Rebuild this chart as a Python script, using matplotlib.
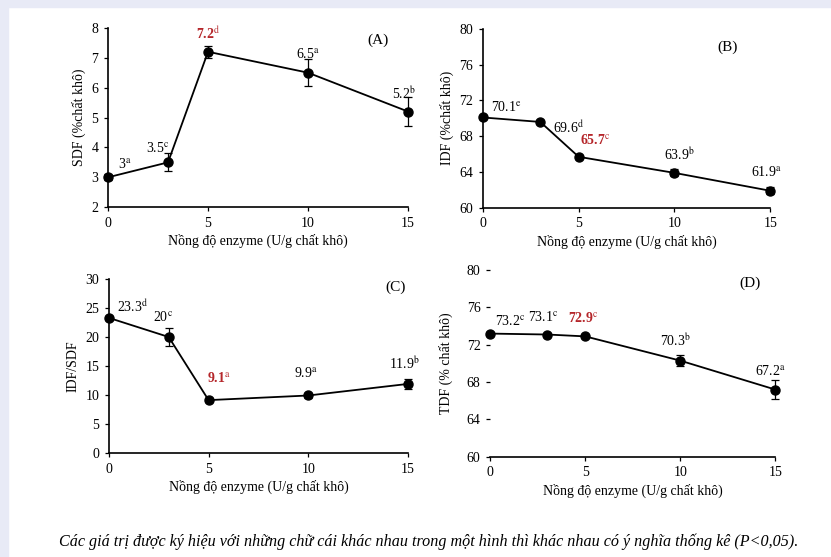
import numpy as np
import matplotlib
matplotlib.use('Agg')
import matplotlib.pyplot as plt
from matplotlib.patches import Rectangle

plt.rcParams['font.family'] = ['Liberation Serif', 'DejaVu Serif']
plt.rcParams['mathtext.fontset'] = 'stix'

# nong do enzyme (U/g chat kho)
dose = [0, 3, 5, 10, 15]

sdf = [3.0, 3.5, 7.2, 6.5, 5.2]
sdf_err = [0.1, 0.3, 0.2, 0.45, 0.5]
sdf_sup = ['a', 'c', 'd', 'a', 'b']

idf = [70.1, 69.6, 65.7, 63.9, 61.9]
idf_err = [0.2, 0.2, 0.2, 0.4, 0.4]
idf_sup = ['e', 'd', 'c', 'b', 'a']

ratio = [23.3, 20.0, 9.1, 9.9, 11.9]
ratio_err = [0.3, 1.6, 0.3, 0.4, 0.8]
ratio_sup = ['d', 'c', 'a', 'a', 'b']

tdf = [73.2, 73.1, 72.9, 70.3, 67.2]
tdf_err = [0.2, 0.2, 0.2, 0.6, 1.0]
tdf_sup = ['c', 'c', 'c', 'b', 'a']

xlab = 'Nồng độ enzyme (U/g chất khô)'
caption = ('Các giá trị được ký hiệu với những chữ cái khác nhau trong một hình '
           'thì khác nhau có ý nghĩa thống kê (P<0,05).')

red = '#b5262a'

fig = plt.figure(figsize=(8.31, 5.57), dpi=100)
fig.patches.append(Rectangle((0, 0), 8 / 831, 1, transform=fig.transFigure,
                             color='#e8eaf6', zorder=0))
fig.patches.append(Rectangle((0, 1 - 7 / 557), 1, 7 / 557, transform=fig.transFigure,
                             color='#e8eaf6', zorder=0))


def panel(rect, y, err, sup, ylim, yticks, ylabel, tag, tagpos, offs, hl,
          hide_left=False, ylpad=4):
    ax = fig.add_axes(rect)
    ax.errorbar(dose, y, yerr=err, color='black', lw=1.3, marker='o', ms=6.5,
                capsize=3, elinewidth=0.9, capthick=0.9, clip_on=False, zorder=3)
    ax.set_xlim(0, 15)
    ax.set_ylim(*ylim)
    ax.set_xticks([0, 5, 10, 15])
    ax.set_yticks(yticks)
    for s in ['top', 'right']:
        ax.spines[s].set_visible(False)
    if hide_left:
        ax.spines['left'].set_visible(False)
    ax.spines['left'].set_linewidth(1.2)
    ax.spines['bottom'].set_linewidth(1.2)
    ax.tick_params(labelsize=10, length=3, width=0.9, pad=4)
    ax.set_xlabel(xlab, fontsize=10, labelpad=3)
    ax.set_ylabel(ylabel, fontsize=10, labelpad=ylpad)
    ax.text(tagpos[0], tagpos[1], tag, transform=ax.transAxes, fontsize=11,
            ha='center', va='center')
    for i, (xv, yv) in enumerate(zip(dose, y)):
        val = ('%g' % yv)
        col = red if i == hl else 'black'
        wt = 'bold' if i == hl else 'normal'
        dx, dy, ha = offs[i]
        ax.annotate(val + r'$^{\mathrm{' + sup[i] + '}}$', (xv, yv), xytext=(dx, dy),
                    textcoords='offset pixels', ha=ha, va='center', fontsize=10,
                    color=col, fontweight=wt, annotation_clip=False)
    return ax


panel([0.130, 0.628, 0.361, 0.322], sdf, sdf_err, sdf_sup, (2, 8), range(2, 9),
      'SDF (%chất khô)', '(A)', (0.9, 0.93),
      [(10, 13, 'left'), (2, 14, 'right'), (0, 18, 'center'), (0, 19, 'center'),
       (-4, 18, 'center')], 2)

panel([0.581, 0.627, 0.346, 0.321], idf, idf_err, idf_sup, (60, 80), range(60, 81, 4),
      'IDF (%chất khô)', '(B)', (0.85, 0.9),
      [(8, 10, 'left'), (13, -6, 'left'), (1, 17, 'left'), (5, 18, 'center'),
       (-4, 19, 'center')], 2)

panel([0.131, 0.187, 0.360, 0.312], ratio, ratio_err, ratio_sup, (0, 30), range(0, 31, 5),
      'IDF/SDF', '(C)', (0.96, 0.95),
      [(8, 11, 'left'), (-6, 20, 'center'), (10, 22, 'center'), (-2, 22, 'center'),
       (-4, 20, 'center')], 2)

panel([0.590, 0.180, 0.343, 0.335], tdf, tdf_err, tdf_sup, (60, 80), range(60, 81, 4),
      'TDF (% chất khô)', '(D)', (0.91, 0.93),
      [(20, 13, 'center'), (-4, 18, 'center'), (-2, 18, 'center'), (-5, 20, 'center'),
       (-5, 19, 'center')], 2, hide_left=True, ylpad=10)

fig.text(0.516, 1 - 542 / 557, caption, fontsize=11.6, style='italic',
         ha='center', va='center')

fig.savefig('out.png', dpi=100, facecolor='white')
